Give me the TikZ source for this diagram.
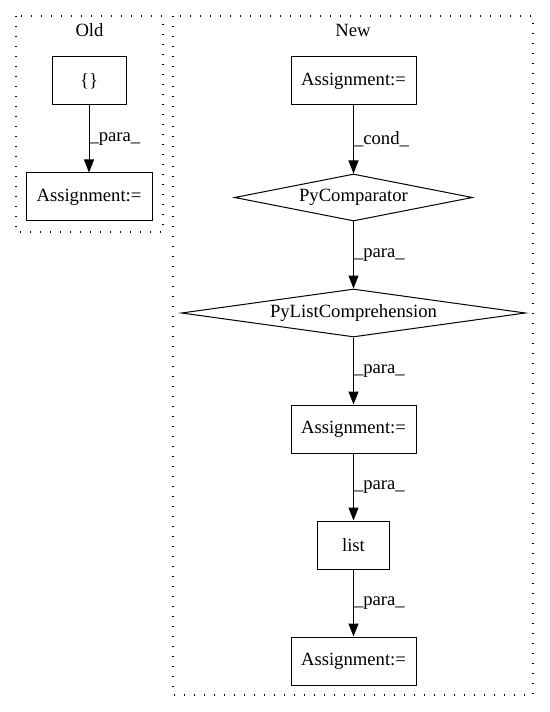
\documentclass[tikz,border=0pt]{standalone}
\usepackage{fontspec}
\setmainfont{Liberation Serif}
\usetikzlibrary{shapes.geometric,arrows.meta}
\begin{document}
\begin{tikzpicture}[x=0.75pt,y=-0.75pt,
  every node/.style={font=\fontsize{14pt}{16pt}\selectfont},
  box/.style={draw, line width=0.75pt, rectangle, minimum width=93.75pt, minimum height=36pt, inner sep=0pt},
  dia/.style={draw, line width=0.75pt, diamond, inner sep=0pt},
  cluster/.style={draw, line width=0.9pt, dash pattern=on 1pt off 6.5pt},
  edge/.style={line width=0.75pt, -{Triangle[length=9.75pt,width=7.5pt]}},
  lbl/.style={anchor=west, inner sep=0pt, midway},
  title/.style={inner sep=0pt}]
\useasboundingbox (0,0) rectangle (549,712);
\draw[cluster] (16,16) rectangle (163,232);
\draw[cluster] (173,16) rectangle (533,695);
\node[title] (oldt) at (89.5,30) {Old};
\node[title] (newt) at (353,30) {New};
\node[box, minimum width=55.5pt] (brace) at (89,81) {\{\}};
\node[box, minimum width=94.5pt] (oa) at (89,197) {Assignment:=};
\node[box] (a1) at (353.5,81) {Assignment:=};
\node[dia, minimum width=178.5pt, minimum height=35.25pt, shape aspect=5] (pc) at (353.5,197.5) {PyComparator};
\node[dia, minimum width=258pt, minimum height=36pt, shape aspect=7] (plc) at (353.5,313) {PyListComprehension};
\node[box] (a2) at (353.5,429) {Assignment:=};
\node[box, minimum width=54pt] (lst) at (353.5,545) {list};
\node[box] (a3) at (353.5,661) {Assignment:=};
\draw[edge] (brace) -- node[lbl] {\_para\_} (oa);
\draw[edge] (a1) -- node[lbl] {\_cond\_} (pc);
\draw[edge] (pc) -- node[lbl] {\_para\_} (plc);
\draw[edge] (plc) -- node[lbl] {\_para\_} (a2);
\draw[edge] (a2) -- node[lbl] {\_para\_} (lst);
\draw[edge] (lst) -- node[lbl] {\_para\_} (a3);
\end{tikzpicture}
\end{document}
